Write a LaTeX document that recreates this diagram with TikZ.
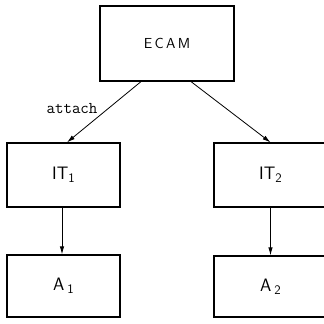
\documentclass[tikz,border=0pt]{standalone}
\usepackage{fontspec}
\usetikzlibrary{arrows.meta}
\newcommand{\lowidx}[1]{\raisebox{-0.45ex}{\fontsize{13}{13}\selectfont #1}}
\begin{document}
\begin{tikzpicture}[x=1pt,y=-1pt,
  box/.style={draw,line width=1.2pt,minimum width=113pt,minimum height=64pt,inner sep=0pt,
    font=\sffamily\fontsize{18}{18}\selectfont},
  link/.style={-{Latex[length=8pt,width=4.5pt]},line width=0.8pt},
  lbl/.style={font=\ttfamily\fontsize{16.5}{16.5}\selectfont,inner sep=0pt}]
\useasboundingbox (0,0) rectangle (324,324);
\clip (0,0) rectangle (324,324);
% boxes
\node[box,minimum width=134pt,minimum height=75pt,font=\sffamily\fontsize{14.5}{14.5}\selectfont] (ecam) at (167,43.5) {E\,C\,A\,M};
\node[box] (it1) at (63.5,175) {IT\lowidx{1}};
\node[box] (it2) at (270.5,175) {IT\lowidx{2}};
\node[box,minimum height=62pt] (a1) at (63.5,286) {A\,\lowidx{1}};
\node[box,minimum height=61pt] (a2) at (270.5,286.5) {A\,\lowidx{2}};
% connectors
\draw[link] ([xshift=-26pt]ecam.south) -- ([xshift=3.5pt]it1.north);
\draw[link] ([xshift=24pt]ecam.south) -- (it2.north);
\draw[link] ([xshift=-1.5pt]it1.south) -- ([xshift=-1.5pt]a1.north);
\draw[link] (it2.south) -- (a2.north);
\node[lbl] (attach) at (72,109) {attach};
\end{tikzpicture}
\end{document}
